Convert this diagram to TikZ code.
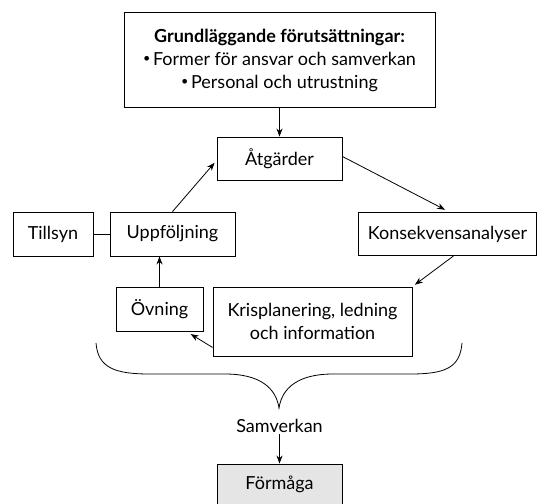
\documentclass[tikz,border=0pt]{standalone}
\usepackage{fontspec}
\setmainfont{Lato}
\usetikzlibrary{arrows.meta}
\newcommand\mybul{\raisebox{0.32ex}{\scalebox{0.7}{•}}\hspace{0.15em}}
\begin{document}
\begin{tikzpicture}[x=1pt,y=-1pt,
  box/.style={draw, line width=0.9pt, inner sep=0pt, align=center, font=\fontsize{18}{23}\selectfont},
  arr/.style={line width=0.8pt, -{Stealth[length=8pt,width=6pt]}},
  ln/.style={line width=0.8pt}]
\useasboundingbox (0,0) rectangle (537,503);
\node[box, minimum width=311pt, minimum height=95pt] (top) at (279.5,60)
  {\textbf{Grundläggande förutsättningar:}\\ \mybul Former för ansvar och samverkan\\ \mybul Personal och utrustning};
\node[box, minimum width=125pt, minimum height=43pt] (atg) at (279.5,158.5) {Åtgärder};
\node[box, minimum width=80pt, minimum height=44pt] (till) at (53,234) {Tillsyn};
\node[box, minimum width=125pt, minimum height=44pt] (upp) at (172.5,234) {Uppföljning};
\node[box, minimum width=178pt, minimum height=43pt] (kons) at (447.5,234) {Konsekvensanalyser};
\node[box, minimum width=87pt, minimum height=44pt] (ov) at (159.5,309) {Övning};
\node[box, minimum width=199pt, minimum height=69pt] (kris) at (312.5,321.5) {Krisplanering, ledning\\och information};
\node[font=\fontsize{18}{23}\selectfont, inner sep=1pt] (sam) at (279.5,426) {Samverkan};
\node[box, fill=black!10, minimum width=125pt, minimum height=40pt] (form) at (279.5,484) {Förmåga};
\coordinate (bl) at (96,343);
\coordinate (br) at (462,343);
\coordinate (tip) at (279,408);

\draw[arr] (top.south) -- (atg.north);
\draw[arr, shorten >=3pt] (upp.north) -- ([yshift=-2pt]atg.west);
\draw[arr, shorten >=5pt] ([yshift=2pt]atg.east) -- ([xshift=2pt]kons.north);
\draw[arr, shorten >=3pt] ([xshift=6pt]kons.south) -- (kris.north east);
\draw[arr, shorten >=5pt] ([yshift=9pt]kris.south west) -- ([xshift=-17pt]ov.south east);
\draw[arr] (ov.north) -- (ov.north |- upp.south);
\draw[ln] (till.east) -- (upp.west);
\draw[arr] (sam.south) -- (form.north);
\draw[ln] (bl) .. controls (98,368) and (115,374) .. (150,374)
  -- (225,374) .. controls (260,374) and (276,388) .. (tip)
  .. controls (282,388) and (298,374) .. (333,374)
  -- (410,374) .. controls (445,374) and (460,368) .. (br);
\end{tikzpicture}
\end{document}
